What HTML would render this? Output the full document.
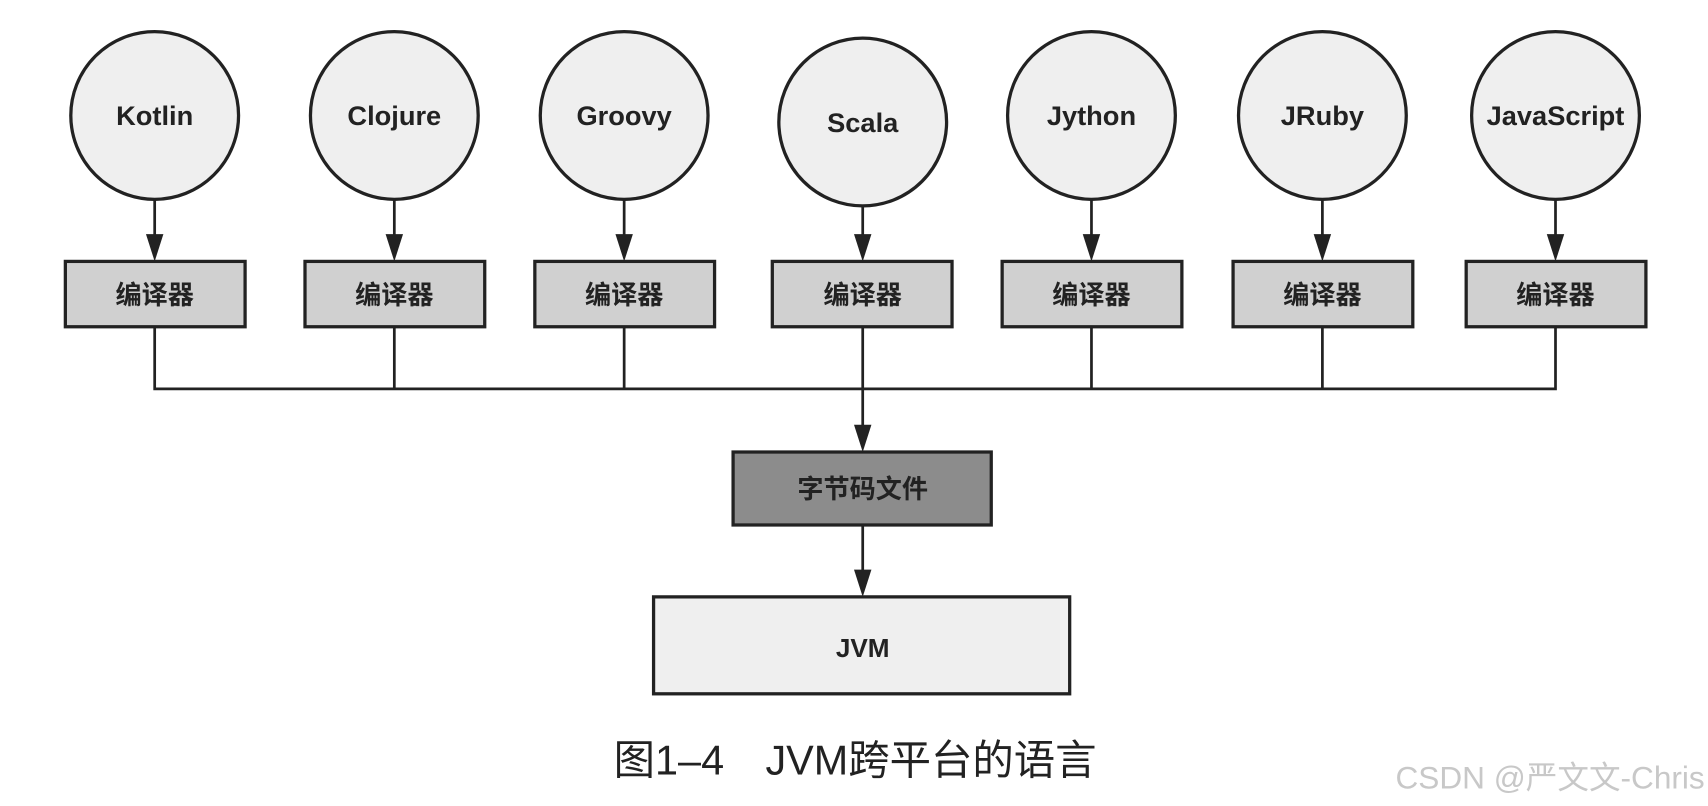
<!DOCTYPE html>
<html><head><meta charset="utf-8"><style>
html,body{margin:0;padding:0;background:#fff;}
svg{display:block}
text{font-family:"Liberation Sans","Noto Sans CJK SC",sans-serif;}
</style></head><body>
<svg width="1708" height="806" viewBox="0 0 1568 740" preserveAspectRatio="none" xmlns="http://www.w3.org/2000/svg">
<g stroke="#222" stroke-width="3" fill="#efefef">
<ellipse cx="142" cy="106" rx="77" ry="77"/>
<ellipse cx="362" cy="106" rx="77" ry="77"/>
<ellipse cx="573" cy="106" rx="77" ry="77"/>
<ellipse cx="792" cy="112" rx="77" ry="77"/>
<ellipse cx="1002" cy="106" rx="77" ry="77"/>
<ellipse cx="1214" cy="106" rx="77" ry="77"/>
<ellipse cx="1428" cy="106" rx="77" ry="77"/>
</g>
<g stroke="#222" stroke-width="2.5" fill="none">
<path d="M142 183V222M362 183V222M573 183V222M792 189V222M1002 183V222M1214 183V222M1428 183V222"/>
<path d="M142 300V357H1428V300M362 300V357M573 300V357M1002 300V357M1214 300V357M792 300V397M792 482V530"/>
</g>
<g fill="#222">
<path d="M134 215h16l-8 25z"/><path d="M354 215h16l-8 25z"/><path d="M565 215h16l-8 25z"/><path d="M784 215h16l-8 25z"/><path d="M994 215h16l-8 25z"/><path d="M1206 215h16l-8 25z"/><path d="M1420 215h16l-8 25z"/>
<path d="M784 390h16l-8 25z"/><path d="M784 523h16l-8 25z"/>
</g>
<g stroke="#222" stroke-width="3" fill="#d0d0d0">
<rect x="60" y="240" width="165" height="60"/>
<rect x="280" y="240" width="165" height="60"/>
<rect x="491" y="240" width="165" height="60"/>
<rect x="709" y="240" width="165" height="60"/>
<rect x="920" y="240" width="165" height="60"/>
<rect x="1132" y="240" width="165" height="60"/>
<rect x="1346" y="240" width="165" height="60"/>
<rect x="673" y="415" width="237" height="67" fill="#8c8c8c"/>
<rect x="600" y="548" width="382" height="89" fill="#efefef"/>
</g>
<g font-size="25" font-weight="bold" fill="#222" text-anchor="middle">
<text x="142" y="115">Kotlin</text>
<text x="362" y="115">Clojure</text>
<text x="573" y="115">Groovy</text>
<text x="792" y="121">Scala</text>
<text x="1002" y="115">Jython</text>
<text x="1214" y="115">JRuby</text>
<text x="1428" y="115">JavaScript</text>
<g font-size="24">
<text x="142" y="279">编译器</text>
<text x="362" y="279">编译器</text>
<text x="573" y="279">编译器</text>
<text x="792" y="279">编译器</text>
<text x="1002" y="279">编译器</text>
<text x="1214" y="279">编译器</text>
<text x="1428" y="279">编译器</text>
<text x="792" y="457">字节码文件</text>
<text x="792" y="603">JVM</text>
</g>
</g>
<text x="785" y="711" font-size="38" fill="#222" text-anchor="middle">图1–4　JVM跨平台的语言</text>
<text x="1565" y="724" font-size="29" fill="#c8c8c8" text-anchor="end">CSDN @严文文-Chris</text>
</svg>
</body></html>
